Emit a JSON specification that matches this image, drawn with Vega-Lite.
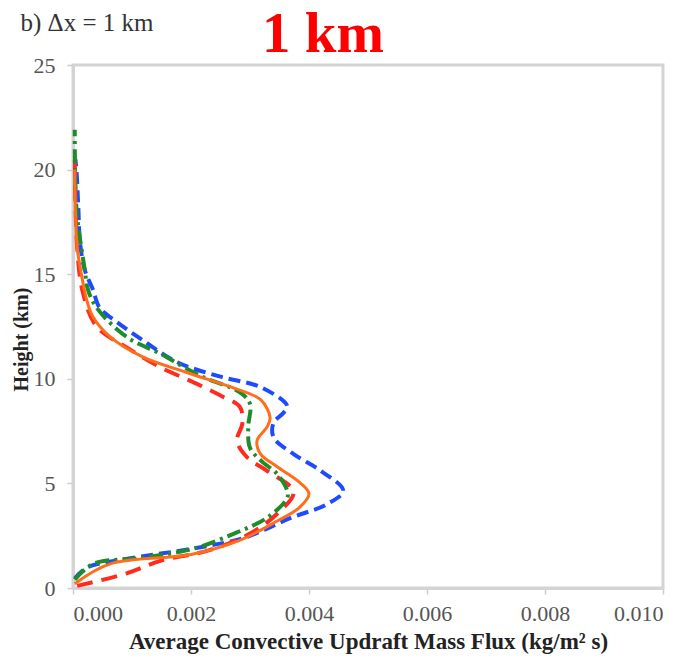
{
  "$schema": "https://vega.github.io/schema/vega-lite/v6.json",
  "width": 590,
  "height": 523,
  "autosize": "none",
  "padding": {"left": 73, "top": 65, "right": 33, "bottom": 69},
  "background": "white",
  "title": {
    "text": "1 km",
    "anchor": "start",
    "frame": "group",
    "dx": 189,
    "dy": 54,
    "font": "Liberation Serif",
    "fontSize": 57,
    "fontWeight": "bold",
    "color": "#ff0000",
    "offset": 0
  },
  "config": {
    "view": {"stroke": "#d4d4d4", "strokeWidth": 3},
    "axis": {
      "labelFont": "Liberation Serif",
      "titleFont": "Liberation Serif",
      "labelColor": "#555555",
      "titleColor": "#222222",
      "grid": false,
      "domainColor": "#d4d4d4",
      "domainWidth": 3,
      "tickColor": "#cccccc",
      "tickWidth": 1.5
    }
  },
  "data": {
    "values": [
      {"series": "blue", "x": 0.00003, "y": 0.45},
      {"series": "blue", "x": 0.00023, "y": 0.97},
      {"series": "blue", "x": 0.0009, "y": 1.39},
      {"series": "blue", "x": 0.002, "y": 1.87},
      {"series": "blue", "x": 0.0029, "y": 2.4},
      {"series": "blue", "x": 0.0037, "y": 3.36},
      {"series": "blue", "x": 0.0043, "y": 4.0},
      {"series": "blue", "x": 0.00458, "y": 4.65},
      {"series": "blue", "x": 0.0042, "y": 5.6},
      {"series": "blue", "x": 0.00374, "y": 6.4},
      {"series": "blue", "x": 0.0034, "y": 7.2},
      {"series": "blue", "x": 0.0034, "y": 7.9},
      {"series": "blue", "x": 0.00356, "y": 8.35},
      {"series": "blue", "x": 0.00363, "y": 8.7},
      {"series": "blue", "x": 0.00318, "y": 9.6},
      {"series": "blue", "x": 0.0025, "y": 10.1},
      {"series": "blue", "x": 0.00176, "y": 10.8},
      {"series": "blue", "x": 0.00118, "y": 11.85},
      {"series": "blue", "x": 0.00075, "y": 12.7},
      {"series": "blue", "x": 0.00045, "y": 13.4},
      {"series": "blue", "x": 0.00034, "y": 14.25},
      {"series": "blue", "x": 0.0002, "y": 15.2},
      {"series": "blue", "x": 0.00012, "y": 16.5},
      {"series": "blue", "x": 0.00009, "y": 18.2},
      {"series": "blue", "x": 0.00006, "y": 19.9},
      {"series": "blue", "x": 0.00004, "y": 20.5},
      {"series": "red", "x": 0.00007, "y": 0.1},
      {"series": "red", "x": 0.00091, "y": 0.7},
      {"series": "red", "x": 0.00148, "y": 1.3},
      {"series": "red", "x": 0.0023, "y": 1.8},
      {"series": "red", "x": 0.003, "y": 2.6},
      {"series": "red", "x": 0.00346, "y": 3.55},
      {"series": "red", "x": 0.00374, "y": 4.6},
      {"series": "red", "x": 0.00329, "y": 5.6},
      {"series": "red", "x": 0.00295, "y": 6.25},
      {"series": "red", "x": 0.00278, "y": 7.05},
      {"series": "red", "x": 0.00287, "y": 7.85},
      {"series": "red", "x": 0.00283, "y": 8.65},
      {"series": "red", "x": 0.0025, "y": 9.2},
      {"series": "red", "x": 0.00203, "y": 9.85},
      {"series": "red", "x": 0.00148, "y": 10.55},
      {"series": "red", "x": 0.00091, "y": 11.5},
      {"series": "red", "x": 0.0004, "y": 12.5},
      {"series": "red", "x": 0.00017, "y": 14.1},
      {"series": "red", "x": 0.00007, "y": 16.3},
      {"series": "red", "x": 0.00003, "y": 20.8},
      {"series": "green", "x": 0.00003, "y": 0.4},
      {"series": "green", "x": 0.00034, "y": 1.15},
      {"series": "green", "x": 0.00118, "y": 1.45},
      {"series": "green", "x": 0.00203, "y": 1.87},
      {"series": "green", "x": 0.00273, "y": 2.6},
      {"series": "green", "x": 0.00329, "y": 3.36},
      {"series": "green", "x": 0.00363, "y": 4.3},
      {"series": "green", "x": 0.00363, "y": 4.65},
      {"series": "green", "x": 0.00346, "y": 5.45},
      {"series": "green", "x": 0.00318, "y": 6.1},
      {"series": "green", "x": 0.003, "y": 6.7},
      {"series": "green", "x": 0.00297, "y": 7.7},
      {"series": "green", "x": 0.003, "y": 8.8},
      {"series": "green", "x": 0.00283, "y": 9.35},
      {"series": "green", "x": 0.00215, "y": 10.15},
      {"series": "green", "x": 0.00148, "y": 11.2},
      {"series": "green", "x": 0.00091, "y": 12.0},
      {"series": "green", "x": 0.0004, "y": 13.4},
      {"series": "green", "x": 0.00025, "y": 14.3},
      {"series": "green", "x": 0.0002, "y": 15.2},
      {"series": "green", "x": 0.00006, "y": 18.1},
      {"series": "green", "x": 0.00003, "y": 21.9},
      {"series": "orange", "x": 0.00003, "y": 0.2},
      {"series": "orange", "x": 0.00063, "y": 1.15},
      {"series": "orange", "x": 0.002, "y": 1.6},
      {"series": "orange", "x": 0.0028, "y": 2.25},
      {"series": "orange", "x": 0.00346, "y": 3.2},
      {"series": "orange", "x": 0.00384, "y": 3.85},
      {"series": "orange", "x": 0.004, "y": 4.5},
      {"series": "orange", "x": 0.00384, "y": 5.05},
      {"series": "orange", "x": 0.00346, "y": 5.8},
      {"series": "orange", "x": 0.00318, "y": 6.4},
      {"series": "orange", "x": 0.00312, "y": 7.05},
      {"series": "orange", "x": 0.00329, "y": 7.7},
      {"series": "orange", "x": 0.00334, "y": 8.15},
      {"series": "orange", "x": 0.00318, "y": 9.0},
      {"series": "orange", "x": 0.00273, "y": 9.55},
      {"series": "orange", "x": 0.00193, "y": 10.3},
      {"series": "orange", "x": 0.00118, "y": 11.05},
      {"series": "orange", "x": 0.00063, "y": 12.0},
      {"series": "orange", "x": 0.00034, "y": 12.95},
      {"series": "orange", "x": 0.00023, "y": 13.8},
      {"series": "orange", "x": 0.00012, "y": 15.35},
      {"series": "orange", "x": 0.00007, "y": 16.3},
      {"series": "orange", "x": 0.00004, "y": 18.1},
      {"series": "orange", "x": 0.00003, "y": 20.0}
    ]
  },
  "resolve": {"axis": {"x": "independent"}},
  "layer": [
    {
      "transform": [{"filter": "datum.series !== 'orange'"}],
      "mark": {"type": "line", "interpolate": "catmull-rom", "strokeWidth": 4, "strokeCap": "butt"},
      "encoding": {
        "x": {
          "field": "x", "type": "quantitative",
          "scale": {"domain": [0, 0.01], "nice": false, "zero": true},
          "axis": {
            "orient": "bottom", "values": [0, 0.002, 0.004, 0.006, 0.008, 0.01], "format": ".3f",
            "labelFontSize": 22, "labelPadding": 9, "tickSize": 6,
            "title": "Average Convective Updraft Mass Flux (kg/m² s)",
            "titleFontSize": 23, "titleFontWeight": "bold",
            "titleY": 60, "titleBaseline": "alphabetic"
          }
        },
        "y": {
          "field": "y", "type": "quantitative",
          "scale": {"domain": [0, 25], "nice": false},
          "axis": {
            "values": [0, 5, 10, 15, 20, 25],
            "labelFontSize": 22, "labelPadding": 12, "tickSize": 6,
            "title": "Height (km)", "titleFontSize": 20, "titleFontWeight": "bold",
            "titleAngle": -90, "titleX": -46, "titleY": 274, "titleBaseline": "alphabetic", "titleAlign": "center"
          }
        },
        "order": {"field": "y", "type": "quantitative"},
        "detail": {"field": "series"},
        "color": {
          "field": "series", "type": "nominal", "legend": null,
          "scale": {"domain": ["blue", "red", "green", "orange"], "range": ["#1f4bff", "#ff2b1f", "#1e8c2a", "#ff6e1a"]}
        },
        "strokeDash": {
          "field": "series", "type": "nominal", "legend": null,
          "scale": {"domain": ["blue", "red", "green", "orange"], "range": [[12, 6], [16, 9], [14, 5, 3, 5], [1, 0]]}
        }
      }
    },
    {
      "transform": [{"filter": "datum.series === 'orange'"}],
      "mark": {"type": "line", "interpolate": "catmull-rom", "strokeWidth": 3},
      "encoding": {
        "x": {
          "field": "x", "type": "quantitative",
          "scale": {"domain": [0, 0.01], "nice": false, "zero": true},
          "axis": {
            "orient": "top", "labels": false, "ticks": false, "domain": false,
            "title": "b) Δx = 1 km", "titleFontSize": 25, "titleFontWeight": "normal",
            "titleColor": "#333333", "titleAnchor": "start", "titleAlign": "left",
            "titleX": -53, "titleY": -35, "titleBaseline": "alphabetic"
          }
        },
        "y": {"field": "y", "type": "quantitative", "scale": {"domain": [0, 25], "nice": false}},
        "order": {"field": "y", "type": "quantitative"},
        "color": {"field": "series", "type": "nominal", "legend": null}
      }
    }
  ]
}
